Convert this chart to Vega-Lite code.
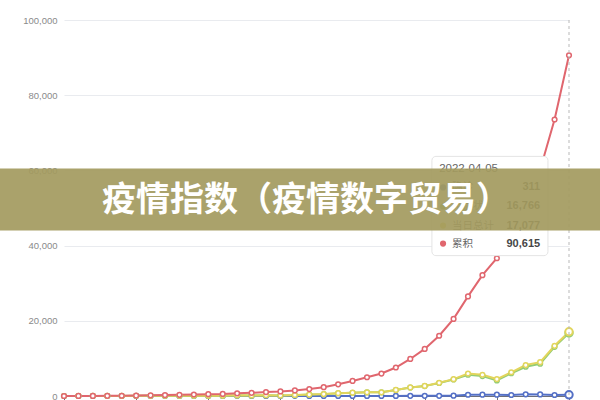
{
  "$schema": "https://vega.github.io/schema/vega-lite/v6.json",
  "width": 505,
  "height": 376,
  "autosize": {"type": "none"},
  "padding": {"left": 64, "top": 20, "right": 31, "bottom": 4},
  "background": "white",
  "config": {
    "view": {"stroke": null},
    "axisY": {
      "labelExpr": "format(datum.value, ',')",
      "domain": false,
      "ticks": false,
      "labelPadding": 7,
      "labelFont": "Liberation Sans",
      "labelFontSize": 9.5,
      "labelColor": "#8a8a8a",
      "gridColor": "#e9ebef"
    }
  },
  "data": {
    "format": {"parse": {"date": "utc:'%Y-%m-%d'"}},
    "values": [
      {"date": "2022-03-01", "确诊": 1, "无症状": 1, "当日总计": 2, "累积": 2},
      {"date": "2022-03-02", "确诊": 3, "无症状": 5, "当日总计": 8, "累积": 10},
      {"date": "2022-03-03", "确诊": 2, "无症状": 14, "当日总计": 16, "累积": 26},
      {"date": "2022-03-04", "确诊": 3, "无症状": 16, "当日总计": 19, "累积": 45},
      {"date": "2022-03-05", "确诊": 0, "无症状": 28, "当日总计": 28, "累积": 73},
      {"date": "2022-03-06", "确诊": 3, "无症状": 45, "当日总计": 48, "累积": 121},
      {"date": "2022-03-07", "确诊": 4, "无症状": 51, "当日总计": 55, "累积": 176},
      {"date": "2022-03-08", "确诊": 3, "无症状": 62, "当日总计": 65, "累积": 241},
      {"date": "2022-03-09", "确诊": 4, "无症状": 76, "当日总计": 80, "累积": 321},
      {"date": "2022-03-10", "确诊": 11, "无症状": 64, "当日总计": 75, "累积": 396},
      {"date": "2022-03-11", "确诊": 5, "无症状": 78, "当日总计": 83, "累积": 479},
      {"date": "2022-03-12", "确诊": 1, "无症状": 64, "当日总计": 65, "累积": 544},
      {"date": "2022-03-13", "确诊": 41, "无症状": 128, "当日总计": 169, "累积": 713},
      {"date": "2022-03-14", "确诊": 9, "无症状": 130, "当日总计": 139, "累积": 852},
      {"date": "2022-03-15", "确诊": 5, "无症状": 197, "当日总计": 202, "累积": 1054},
      {"date": "2022-03-16", "确诊": 8, "无症状": 150, "当日总计": 158, "累积": 1212},
      {"date": "2022-03-17", "确诊": 57, "无症状": 203, "当日总计": 260, "累积": 1472},
      {"date": "2022-03-18", "确诊": 8, "无症状": 366, "当日总计": 374, "累积": 1846},
      {"date": "2022-03-19", "确诊": 17, "无症状": 492, "当日总计": 509, "累积": 2355},
      {"date": "2022-03-20", "确诊": 24, "无症状": 734, "当日总计": 758, "累积": 3113},
      {"date": "2022-03-21", "确诊": 31, "无症状": 865, "当日总计": 896, "累积": 4009},
      {"date": "2022-03-22", "确诊": 4, "无症状": 977, "当日总计": 981, "累积": 4990},
      {"date": "2022-03-23", "确诊": 4, "无症状": 979, "当日总计": 983, "累积": 5973},
      {"date": "2022-03-24", "确诊": 29, "无症状": 1580, "当日总计": 1609, "累积": 7582},
      {"date": "2022-03-25", "确诊": 38, "无症状": 2231, "当日总计": 2269, "累积": 9851},
      {"date": "2022-03-26", "确诊": 45, "无症状": 2631, "当日总计": 2676, "累积": 12527},
      {"date": "2022-03-27", "确诊": 50, "无症状": 3450, "当日总计": 3500, "累积": 16027},
      {"date": "2022-03-28", "确诊": 96, "无症状": 4381, "当日总计": 4477, "累积": 20504},
      {"date": "2022-03-29", "确诊": 326, "无症状": 5656, "当日总计": 5982, "累积": 26486},
      {"date": "2022-03-30", "确诊": 355, "无症状": 5298, "当日总计": 5653, "累积": 32139},
      {"date": "2022-03-31", "确诊": 358, "无症状": 4144, "当日总计": 4502, "累积": 36641},
      {"date": "2022-04-01", "确诊": 260, "无症状": 6051, "当日总计": 6311, "累积": 42952},
      {"date": "2022-04-02", "确诊": 438, "无症状": 7788, "当日总计": 8226, "累积": 51178},
      {"date": "2022-04-03", "确诊": 425, "无症状": 8581, "当日总计": 9006, "累积": 60184},
      {"date": "2022-04-04", "确诊": 268, "无症状": 13086, "当日总计": 13354, "累积": 73538},
      {"date": "2022-04-05", "确诊": 311, "无症状": 16766, "当日总计": 17077, "累积": 90615}
    ]
  },
  "transform": [
    {"fold": ["确诊", "无症状", "当日总计", "累积"], "as": ["series", "value"]}
  ],
  "encoding": {
    "color": {
      "field": "series",
      "type": "nominal",
      "scale": {
        "domain": ["确诊", "无症状", "当日总计", "累积"],
        "range": ["#5470c6", "#91cc75", "#e2d55c", "#e0666e"]
      },
      "legend": null
    }
  },
  "layer": [
    {
      "mark": {"type": "line", "strokeWidth": 2},
      "encoding": {
        "x": {
          "field": "date",
          "type": "temporal",
          "scale": {
            "type": "utc",
            "nice": false,
            "domain": [
              {"year": 2022, "month": 3, "date": 1, "utc": true},
              {"year": 2022, "month": 4, "date": 5, "utc": true}
            ]
          },
          "axis": {
            "title": null,
            "labels": false,
            "grid": false,
            "domainColor": "#6e7079",
            "tickColor": "#6e7079",
            "tickSize": 5,
            "values": [
              {"year": 2022, "month": 3, "date": 1, "utc": true},
              {"year": 2022, "month": 3, "date": 6, "utc": true},
              {"year": 2022, "month": 3, "date": 11, "utc": true},
              {"year": 2022, "month": 3, "date": 16, "utc": true},
              {"year": 2022, "month": 3, "date": 21, "utc": true},
              {"year": 2022, "month": 3, "date": 26, "utc": true},
              {"year": 2022, "month": 3, "date": 31, "utc": true},
              {"year": 2022, "month": 4, "date": 5, "utc": true}
            ]
          }
        },
        "y": {
          "field": "value",
          "type": "quantitative",
          "scale": {"domain": [0, 100000], "nice": false},
          "axis": {
            "title": null,
            "labelExpr": "format(datum.value, ',')",
            "values": [0, 20000, 40000, 60000, 80000, 100000]
          }
        }
      }
    },
    {
      "mark": {"type": "point", "filled": true, "fill": "white", "size": 22, "strokeWidth": 1.5, "opacity": 1},
      "encoding": {
        "x": {"field": "date", "type": "temporal"},
        "y": {"field": "value", "type": "quantitative"},
        "stroke": {"field": "series", "type": "nominal", "scale": {"domain": ["确诊", "无症状", "当日总计", "累积"], "range": ["#5470c6", "#91cc75", "#e2d55c", "#e0666e"]}, "legend": null}
      }
    },
    {
      "transform": [{"filter": "datum.series !== '累积' && time(datum.date) === utc(2022, 3, 5)"}],
      "mark": {"type": "point", "filled": true, "fill": "white", "size": 55, "strokeWidth": 2, "opacity": 1},
      "encoding": {
        "x": {"field": "date", "type": "temporal"},
        "y": {"field": "value", "type": "quantitative"},
        "stroke": {"field": "series", "type": "nominal", "scale": {"domain": ["确诊", "无症状", "当日总计", "累积"], "range": ["#5470c6", "#91cc75", "#e2d55c", "#e0666e"]}, "legend": null}
      }
    },
    {
      "transform": [{"filter": "datum.series === '累积' && time(datum.date) === utc(2022, 3, 5)"}],
      "mark": {"type": "rule", "strokeDash": [3, 3], "strokeWidth": 1},
      "encoding": {
        "color": {"value": "#b9b9b9"},
        "x": {"datum": {"year": 2022, "month": 4, "date": 5, "utc": true}, "type": "temporal"}
      }
    },
    {
      "transform": [{"filter": "datum.series === '累积' && time(datum.date) === utc(2022, 3, 5)"}],
      "mark": {"type": "rect", "stroke": "#e4e4e4", "cornerRadius": 4, "strokeWidth": 1},
      "encoding": {
        "color": {"value": "white"},
        "x": {"datum": {"year": 2022, "month": 3, "date": 26, "hours": 12, "utc": true}, "type": "temporal"},
        "x2": {"datum": {"year": 2022, "month": 4, "date": 3, "hours": 13, "utc": true}},
        "y": {"datum": 63733, "type": "quantitative"},
        "y2": {"datum": 37333}
      }
    },
    {
      "transform": [{"filter": "datum.series === '累积' && time(datum.date) === utc(2022, 3, 5)"}],
      "mark": {"type": "text", "align": "left", "baseline": "middle", "font": "Liberation Sans", "fontSize": 11.5},
      "encoding": {
        "color": {"value": "#666666"},
        "text": {"value": "2022-04-05"},
        "x": {"datum": {"year": 2022, "month": 3, "date": 27, "utc": true}, "type": "temporal"},
        "y": {"datum": 60267, "type": "quantitative"}
      }
    },
    {
      "transform": [{"filter": "datum.series === '确诊' && time(datum.date) === utc(2022, 3, 5)"}],
      "encoding": {"y": {"datum": 55467, "type": "quantitative"}},
      "layer": [
        {"mark": {"type": "point", "filled": true, "size": 38, "opacity": 1}, "encoding": {"x": {"datum": {"year": 2022, "month": 3, "date": 27, "hours": 6, "minutes": 30, "utc": true}, "type": "temporal"}}},
        {"mark": {"type": "text", "align": "left", "baseline": "middle", "dx": 9, "font": "Noto Sans CJK SC", "fontSize": 10.5}, "encoding": {"color": {"value": "#666666"}, "text": {"field": "series"}, "x": {"datum": {"year": 2022, "month": 3, "date": 27, "hours": 6, "minutes": 30, "utc": true}, "type": "temporal"}}},
        {"mark": {"type": "text", "align": "right", "baseline": "middle", "font": "Liberation Sans", "fontSize": 11, "fontWeight": "bold"}, "encoding": {"color": {"value": "#464646"}, "text": {"field": "value", "format": ","}, "x": {"datum": {"year": 2022, "month": 4, "date": 3, "utc": true}, "type": "temporal"}}}
      ]
    },
    {
      "transform": [{"filter": "datum.series === '无症状' && time(datum.date) === utc(2022, 3, 5)"}],
      "encoding": {"y": {"datum": 50400, "type": "quantitative"}},
      "layer": [
        {"mark": {"type": "point", "filled": true, "size": 38, "opacity": 1}, "encoding": {"x": {"datum": {"year": 2022, "month": 3, "date": 27, "hours": 6, "minutes": 30, "utc": true}, "type": "temporal"}}},
        {"mark": {"type": "text", "align": "left", "baseline": "middle", "dx": 9, "font": "Noto Sans CJK SC", "fontSize": 10.5}, "encoding": {"color": {"value": "#666666"}, "text": {"field": "series"}, "x": {"datum": {"year": 2022, "month": 3, "date": 27, "hours": 6, "minutes": 30, "utc": true}, "type": "temporal"}}},
        {"mark": {"type": "text", "align": "right", "baseline": "middle", "font": "Liberation Sans", "fontSize": 11, "fontWeight": "bold"}, "encoding": {"color": {"value": "#464646"}, "text": {"field": "value", "format": ","}, "x": {"datum": {"year": 2022, "month": 4, "date": 3, "utc": true}, "type": "temporal"}}}
      ]
    },
    {
      "transform": [{"filter": "datum.series === '当日总计' && time(datum.date) === utc(2022, 3, 5)"}],
      "encoding": {"y": {"datum": 45333, "type": "quantitative"}},
      "layer": [
        {"mark": {"type": "point", "filled": true, "size": 38, "opacity": 1}, "encoding": {"x": {"datum": {"year": 2022, "month": 3, "date": 27, "hours": 6, "minutes": 30, "utc": true}, "type": "temporal"}}},
        {"mark": {"type": "text", "align": "left", "baseline": "middle", "dx": 9, "font": "Noto Sans CJK SC", "fontSize": 10.5}, "encoding": {"color": {"value": "#666666"}, "text": {"field": "series"}, "x": {"datum": {"year": 2022, "month": 3, "date": 27, "hours": 6, "minutes": 30, "utc": true}, "type": "temporal"}}},
        {"mark": {"type": "text", "align": "right", "baseline": "middle", "font": "Liberation Sans", "fontSize": 11, "fontWeight": "bold"}, "encoding": {"color": {"value": "#464646"}, "text": {"field": "value", "format": ","}, "x": {"datum": {"year": 2022, "month": 4, "date": 3, "utc": true}, "type": "temporal"}}}
      ]
    },
    {
      "transform": [{"filter": "datum.series === '累积' && time(datum.date) === utc(2022, 3, 5)"}],
      "encoding": {"y": {"datum": 40533, "type": "quantitative"}},
      "layer": [
        {"mark": {"type": "point", "filled": true, "size": 38, "opacity": 1}, "encoding": {"x": {"datum": {"year": 2022, "month": 3, "date": 27, "hours": 6, "minutes": 30, "utc": true}, "type": "temporal"}}},
        {"mark": {"type": "text", "align": "left", "baseline": "middle", "dx": 9, "font": "Noto Sans CJK SC", "fontSize": 10.5}, "encoding": {"color": {"value": "#666666"}, "text": {"field": "series"}, "x": {"datum": {"year": 2022, "month": 3, "date": 27, "hours": 6, "minutes": 30, "utc": true}, "type": "temporal"}}},
        {"mark": {"type": "text", "align": "right", "baseline": "middle", "font": "Liberation Sans", "fontSize": 11, "fontWeight": "bold"}, "encoding": {"color": {"value": "#464646"}, "text": {"field": "value", "format": ","}, "x": {"datum": {"year": 2022, "month": 4, "date": 3, "utc": true}, "type": "temporal"}}}
      ]
    },
    {
      "transform": [{"filter": "datum.series === '累积' && time(datum.date) === utc(2022, 3, 5)"}],
      "mark": {"type": "rect", "opacity": 0.92},
      "encoding": {
        "color": {"value": "#a39a5e"},
        "x": {"datum": {"year": 2022, "month": 2, "date": 18, "utc": true}, "type": "temporal"},
        "x2": {"datum": {"year": 2022, "month": 4, "date": 12, "utc": true}},
        "y": {"datum": 60533, "type": "quantitative"},
        "y2": {"datum": 44000}
      }
    },
    {
      "transform": [{"filter": "datum.series === '累积' && time(datum.date) === utc(2022, 3, 5)"}],
      "mark": {"type": "text", "align": "center", "baseline": "middle", "font": "Noto Sans CJK SC", "fontSize": 34, "fontWeight": "bold"},
      "encoding": {
        "color": {"value": "white"},
        "text": {"value": "疫情指数（疫情数字贸易）"},
        "x": {"datum": {"year": 2022, "month": 3, "date": 17, "hours": 18, "minutes": 30, "utc": true}, "type": "temporal"},
        "y": {"datum": 51733, "type": "quantitative"}
      }
    }
  ]
}
